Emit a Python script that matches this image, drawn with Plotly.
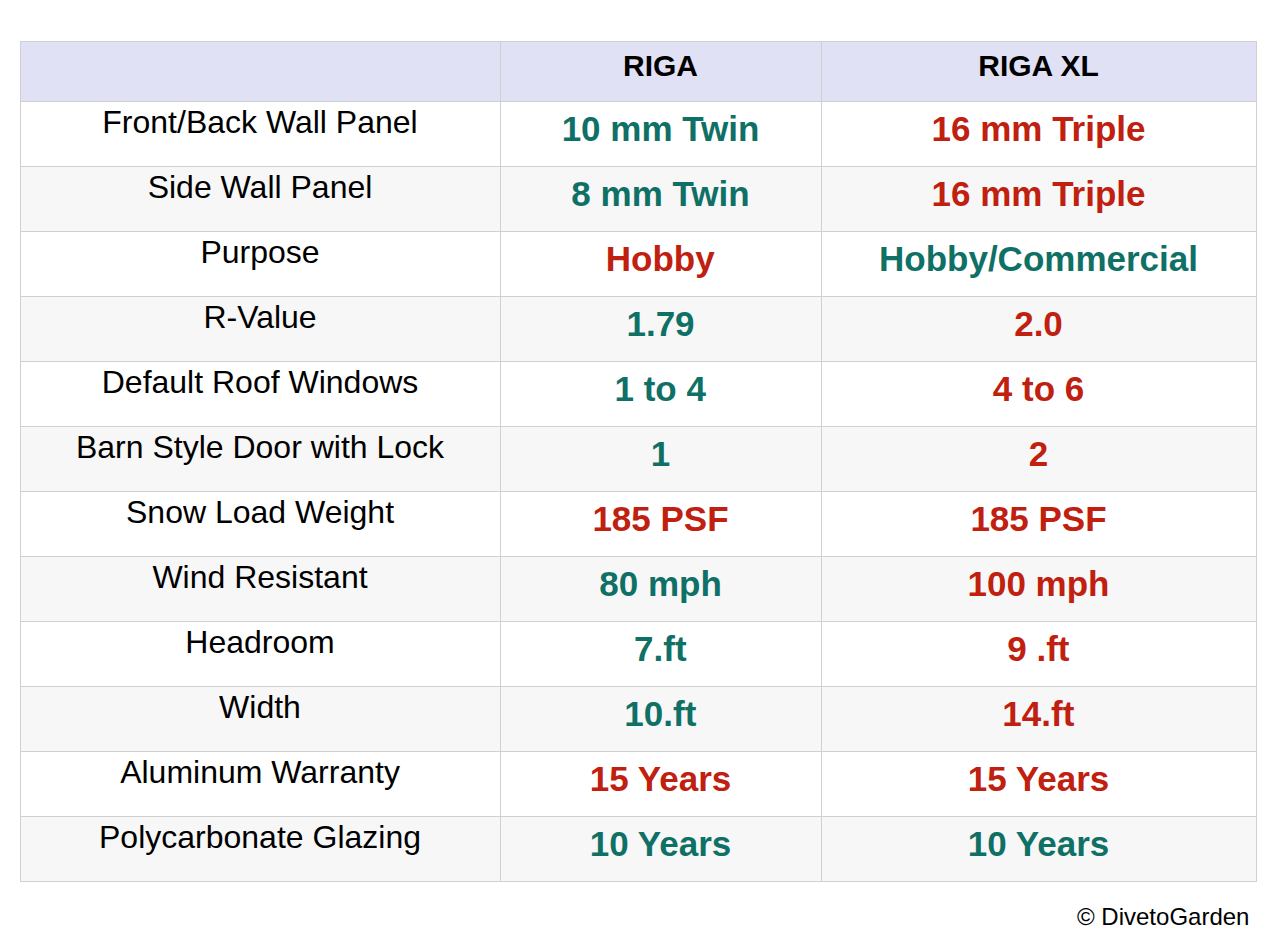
import plotly.graph_objects as go

TEAL = "#0f7066"
RED = "#c0200f"

headers = ["", "RIGA", "RIGA XL"]
features = ["Front/Back Wall Panel", "Side Wall Panel", "Purpose", "R-Value",
            "Default Roof Windows", "Barn Style Door with Lock", "Snow Load Weight",
            "Wind Resistant", "Headroom", "Width", "Aluminum Warranty",
            "Polycarbonate Glazing"]
riga = ["10 mm Twin", "8 mm Twin", "Hobby", "1.79", "1 to 4", "1", "185 PSF",
        "80 mph", "7.ft", "10.ft", "15 Years", "10 Years"]
riga_xl = ["16 mm Triple", "16 mm Triple", "Hobby/Commercial", "2.0", "4 to 6", "2",
           "185 PSF", "100 mph", "9 .ft", "14.ft", "15 Years", "10 Years"]
riga_good = [1, 1, 0, 1, 1, 1, 0, 1, 1, 1, 0, 1]
xl_good = [0, 0, 1, 0, 0, 0, 0, 0, 0, 0, 0, 1]

bold = lambda vals: ["<b>" + v + "</b>" for v in vals]
row_fill = ["white" if i % 2 == 0 else "#f7f7f7" for i in range(len(features))]

fig = go.Figure(go.Table(
    domain=dict(x=[12 / 1278, 1248 / 1278], y=[1 - 876 / 942, 1 - 33 / 942]),
    columnwidth=[480, 321, 435],
    header=dict(
        values=bold(headers),
        fill_color="#e1e1f6",
        line=dict(color=["#d0d0d0", "#d0d0d0", "#d0d0d0"], width=1),
        font=dict(family="Liberation Sans, Arial", size=30, color="black"),
        align="center", height=60,
    ),
    cells=dict(
        values=[features, bold(riga), bold(riga_xl)],
        fill_color=[row_fill, row_fill, row_fill],
        line=dict(color=["#d0d0d0", "#d0d0d0", "#d0d0d0"], width=1),
        font=dict(
            family="Liberation Sans, Arial",
            size=[32, 35, 35],
            color=["black",
                   [TEAL if g else RED for g in riga_good],
                   [TEAL if g else RED for g in xl_good]],
        ),
        align="center", height=65,
    ),
))

fig.add_annotation(text="© DivetoGarden", x=1243 / 1278, y=1 - 908 / 942,
                   xref="paper", yref="paper", xanchor="right", yanchor="middle",
                   showarrow=False,
                   font=dict(family="Liberation Sans, Arial", size=24, color="black"))

fig.update_layout(width=1278, height=942, margin=dict(l=0, r=0, t=0, b=0),
                  paper_bgcolor="white")
fig.write_html("out.html")
